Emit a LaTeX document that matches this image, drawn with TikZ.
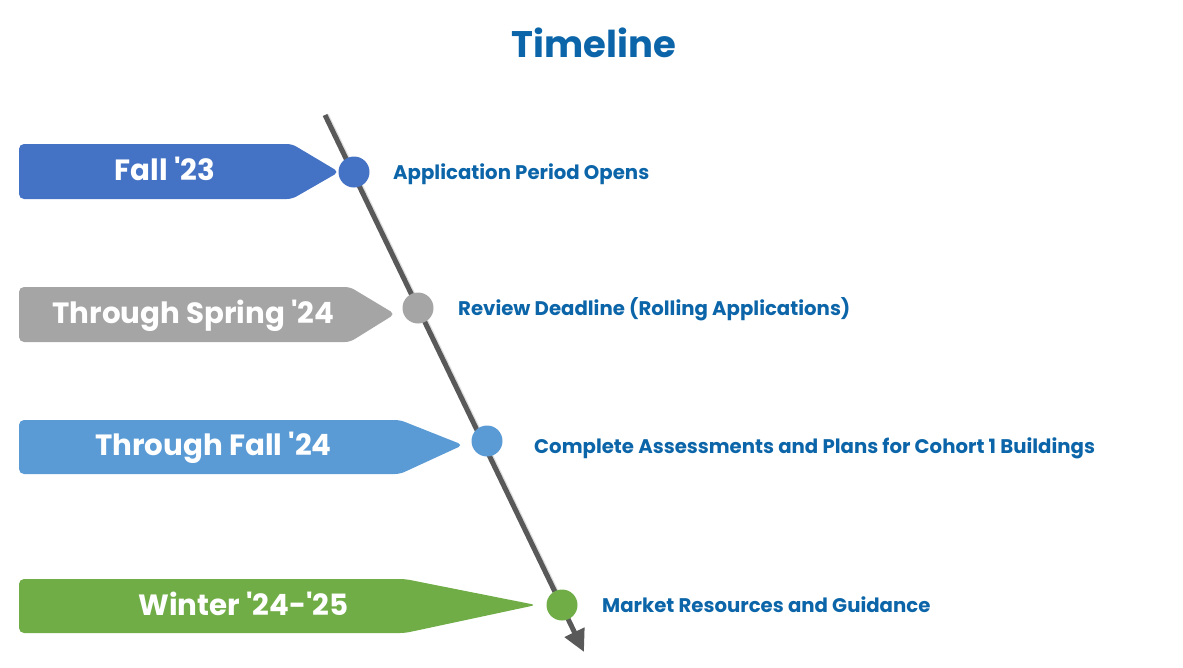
\documentclass[tikz,border=0pt]{standalone}
\usepackage{fontspec}
\setmainfont{Poppins}[BoldFont={* Bold}]
\usetikzlibrary{arrows.meta,calc}
\definecolor{ttl}{HTML}{0B65A8}
\definecolor{cblue}{HTML}{4472C4}
\definecolor{cgray}{HTML}{A5A5A5}
\definecolor{clight}{HTML}{5B9BD5}
\definecolor{cgreen}{HTML}{70AD47}
\definecolor{lne}{HTML}{595959}
\newcommand{\ap}{\textquotesingle}
\tikzset{
  banner/.style={fill=#1, draw=none, rounded corners=5pt},
  bantext/.style={text=white, font=\bfseries\fontsize{29.3}{34}\selectfont, inner sep=0pt, anchor=base},
  label/.style={text=ttl, font=\bfseries\fontsize{19.7}{23}\selectfont, inner sep=0pt, anchor=base west},
  dot/.style={circle, fill=#1, draw=none, minimum size=31pt, inner sep=0pt},
}
\begin{document}
\begin{tikzpicture}[x=1pt,y=-1pt]
\useasboundingbox (0,0) rectangle (1183,667);
% title
\node[text=ttl, font=\bfseries\fontsize{37}{44}\selectfont, inner sep=0pt, anchor=base] (title) at (594,57) {Timeline};
% timeline axis
\coordinate (ltop) at (325,115);
\coordinate (lbot) at (584,652);
\draw[line width=4pt, black!12] ([xshift=2pt]ltop) -- ([xshift=2pt]$(ltop)!0.93!(lbot)$);
\draw[line width=5pt, lne, -{Triangle[length=22pt,width=21pt]}] (ltop) -- (lbot);
% banners
\fill[banner=cblue] (19,144) -- (292,144) -- (339,172) -- (292,199) -- (19,199) -- cycle;
\node[bantext] (b1) at (165,180) {Fall \ap23};
\fill[banner=cgray] (19,287) -- (350,287) -- (395,314) -- (350,342) -- (19,342) -- cycle;
\node[bantext] (b2) at (193.5,323.5) {Through Spring \ap24};
\fill[banner=clight] (19,420) -- (400,420) -- (463,445) -- (400,474) -- (19,474) -- cycle;
\node[bantext] (b3) at (213.5,455) {Through Fall \ap24};
\fill[banner=cgreen] (19,579) -- (405,579) -- (536,605) -- (405,633) -- (19,633) -- cycle;
\node[bantext] (b4) at (243.5,615) {Winter \ap24-\ap25};
% dots
\node[dot=cblue] (d1) at (354,172) {};
\node[dot=cgray] (d2) at (418,308) {};
\node[dot=clight] (d3) at (487,441) {};
\node[dot=cgreen] (d4) at (562,605) {};
% labels
\node[label] (t1) at (393,179) {Application Period Opens};
\node[label] (t2) at (458,315) {Review Deadline (Rolling Applications)};
\node[label] (t3) at (534,453) {Complete Assessments and Plans for Cohort 1 Buildings};
\node[label] (t4) at (602,612) {Market Resources and Guidance};
\end{tikzpicture}
\end{document}
